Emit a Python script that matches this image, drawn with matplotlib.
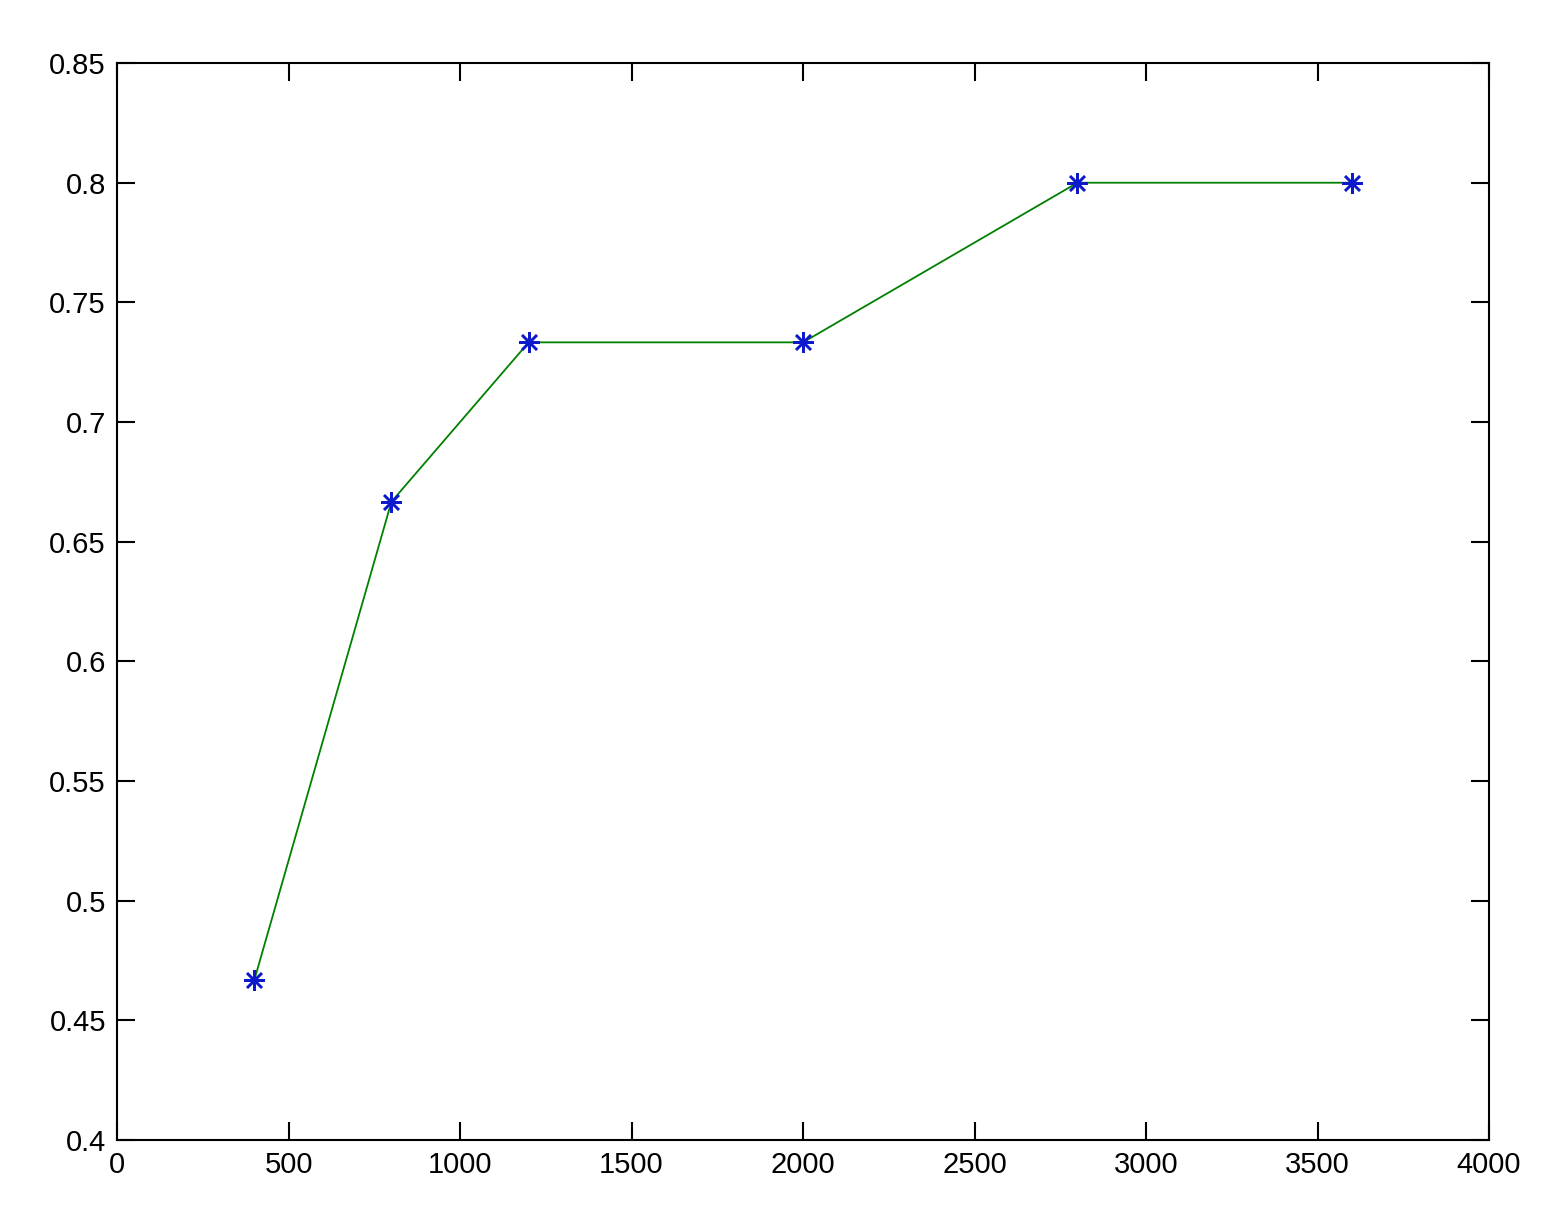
import matplotlib
matplotlib.use("Agg")
import matplotlib.pyplot as plt

# data
samples = [400, 800, 1200, 2000, 2800, 3600]
accuracy = [0.4667, 0.6667, 0.7333, 0.7333, 0.8, 0.8]

plt.rcParams['font.family'] = ['Liberation Sans', 'DejaVu Sans']

fig = plt.figure(figsize=(15.5, 12.22), dpi=100)
ax = fig.add_axes([0.0755, 0.0671, 0.8852, 0.8813])

ax.plot(samples, accuracy, color=(0, 0.5, 0), linewidth=1.3, zorder=2)
# matlab style '*' marker: 8 armed asterisk
ax.plot(samples, accuracy, linestyle='none', marker=(8, 2, 0), color=(0.05, 0.1, 0.8),
        markersize=15, markeredgewidth=1.8, zorder=3)

ax.set_xlim(0, 4000)
ax.set_ylim(0.4, 0.85)
ax.set_xticks(range(0, 4001, 500))
ax.set_yticks([0.4, 0.45, 0.5, 0.55, 0.6, 0.65, 0.7, 0.75, 0.8, 0.85])
ax.set_yticklabels(['0.4', '0.45', '0.5', '0.55', '0.6', '0.65', '0.7', '0.75', '0.8', '0.85'])

ax.tick_params(direction='in', top=True, right=True, length=13, width=1.5,
               labelsize=21, pad=8)
for s in ax.spines.values():
    s.set_linewidth(1.5)

fig.savefig("out.png", dpi=100)
